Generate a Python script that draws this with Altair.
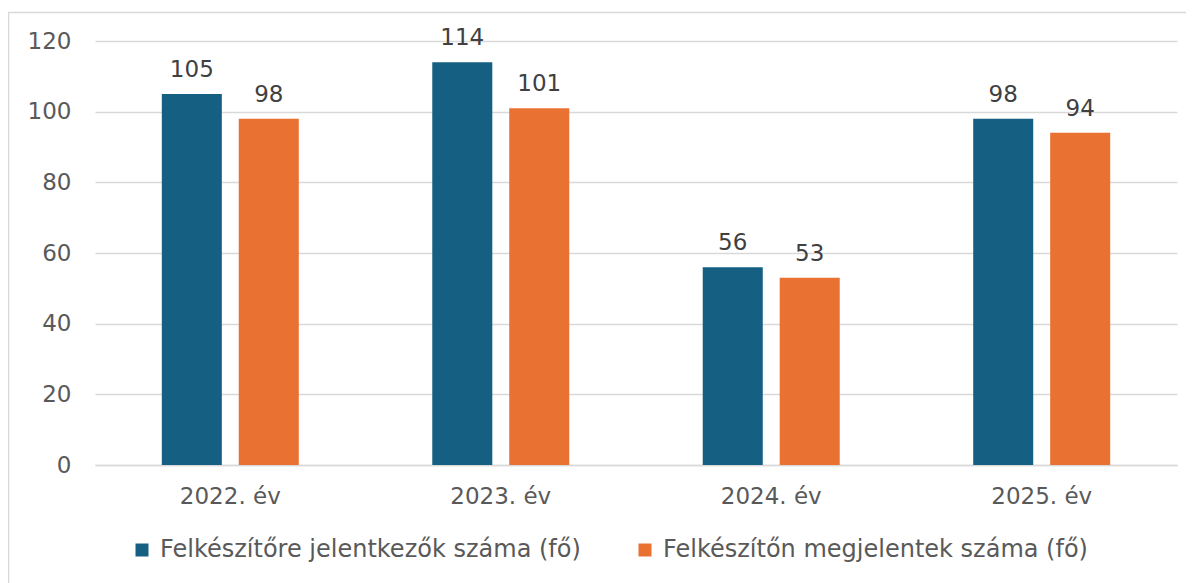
import altair as alt
import pandas as pd

years = ["2022. év", "2023. év", "2024. év", "2025. év"]
series = ["Felkészítőre jelentkezők száma (fő)", "Felkészítőn megjelentek száma (fő)"]
applied = [105, 114, 56, 98]
attended = [98, 101, 53, 94]
colors = ["#156082", "#E97132"]

rows = []
for i, y in enumerate(years):
    rows.append({"year": y, "series": series[0], "value": applied[i]})
    rows.append({"year": y, "series": series[1], "value": attended[i]})
df = pd.DataFrame(rows)

FONT = "DejaVu Sans"
TXT = "#595959"
FS = 23
W, H = 1082, 424

x = alt.X("year:N", sort=years, title=None,
          scale=alt.Scale(paddingInner=0.4935, paddingOuter=0.247),
          axis=alt.Axis(labelAngle=0, ticks=False, domain=True, domainColor="#D9D9D9",
                        domainWidth=1.5, labelFontSize=FS, labelColor=TXT, labelFont=FONT,
                        labelPadding=20))
xo = alt.XOffset("series:N", sort=series, scale=alt.Scale(paddingInner=0.22, paddingOuter=0))
y = alt.Y("value:Q", title=None,
          scale=alt.Scale(domain=[0, 120]),
          axis=alt.Axis(values=[0, 20, 40, 60, 80, 100, 120], ticks=False, domain=False,
                        gridColor="#D9D9D9", gridWidth=1.5, labelFontSize=FS,
                        labelColor=TXT, labelFont=FONT, labelPadding=24))

base = alt.Chart(df)

bars = base.mark_bar().encode(
    x=x, xOffset=xo, y=y,
    color=alt.Color("series:N", sort=series,
                    scale=alt.Scale(domain=series, range=colors),
                    legend=alt.Legend(title=None, orient="none", direction="horizontal",
                                      legendX=35, legendY=497, symbolType="square",
                                      symbolSize=169, symbolStrokeWidth=0,
                                      labelFontSize=24, labelColor=TXT, labelFont=FONT,
                                      labelOffset=6, columnPadding=52, labelLimit=0)),
)

labels = base.mark_text(baseline="alphabetic", dy=-17, fontSize=FS, font=FONT, color="#404040").encode(
    x=x, xOffset=xo, y=y, text=alt.Text("value:Q"),
)

frame = alt.Chart(pd.DataFrame({"f": [0]})).mark_rect(
    fill=None, stroke="#D9D9D9", strokeWidth=1.5
).encode(
    x=alt.value(-86.5), x2=alt.value(W + 80), y=alt.value(-28.5), y2=alt.value(H + 160)
)

chart = alt.layer(frame, bars, labels).properties(
    width=W, height=H,
    autosize=alt.AutoSizeParams(type="none"),
    padding={"left": 87, "top": 33, "right": 9, "bottom": 118},
).configure_view(stroke=None)

chart.save("out.html", embed_options={"renderer": "svg", "actions": False})
